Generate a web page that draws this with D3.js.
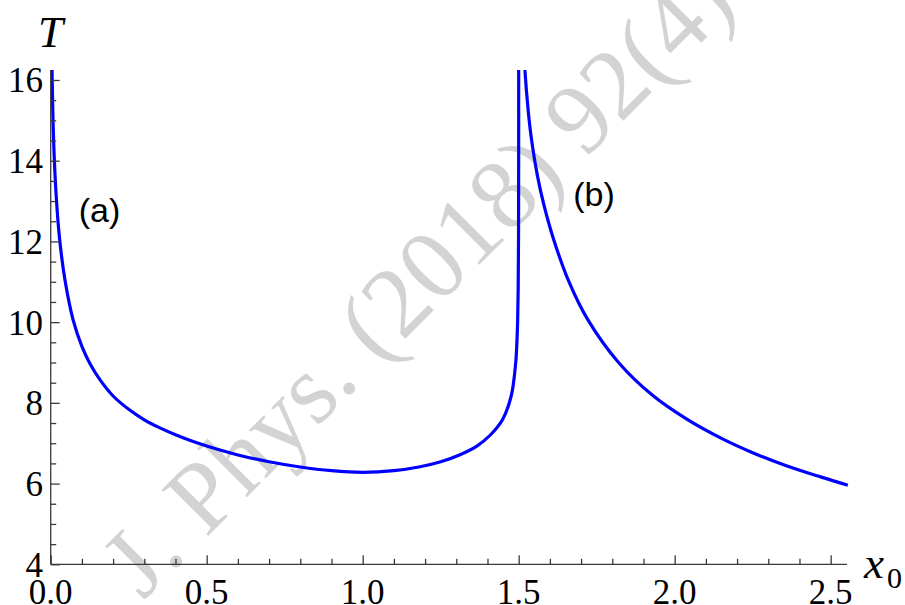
<!DOCTYPE html>
<html><head><meta charset="utf-8">
<script src="https://cdn.jsdelivr.net/npm/d3@7"></script>
<style>body{margin:0;background:#fff} svg{display:block}</style>
</head><body>
<svg id="chart" width="905" height="605"></svg>
<script>
// ---- data ----
const xTicks = [0, 0.5, 1.0, 1.5, 2.0, 2.5];
const xTickLabels = ["0.0", "0.5", "1.0", "1.5", "2.0", "2.5"];
const yTicks = [4, 6, 8, 10, 12, 14, 16];
const yTickLabels = ["4", "6", "8", "10", "12", "14", "16"];
const branchA_x = [0.0035, 0.005, 0.008, 0.011, 0.017, 0.028, 0.046, 0.072, 0.10, 0.126, 0.16, 0.20, 0.25, 0.30, 0.35, 0.40, 0.45, 0.50, 0.60, 0.70, 0.80, 0.90, 1.00, 1.10, 1.18, 1.25, 1.31, 1.366, 1.41, 1.448, 1.476, 1.4902, 1.4937, 1.4967, 1.4984, 1.4995, 1.49992, 1.49999];
const branchA_T = [16.7, 15.9, 14.85, 14.15, 13.2, 12.1, 11.03, 10.05, 9.40, 8.97, 8.55, 8.17, 7.84, 7.58, 7.38, 7.21, 7.06, 6.93, 6.71, 6.54, 6.41, 6.32, 6.28, 6.32, 6.41, 6.54, 6.71, 6.93, 7.21, 7.58, 8.17, 8.97, 9.40, 10.05, 10.85, 12.1, 14.15, 16.7];
const branchB_x = [1.518, 1.52, 1.53, 1.54, 1.56, 1.58, 1.61, 1.66, 1.72, 1.82, 1.93, 2.04, 2.15, 2.25, 2.36, 2.47, 2.555];
const branchB_T = [16.6, 16.25, 15.28, 14.59, 13.63, 12.93, 12.1, 11.02, 10.08, 9.0, 8.18, 7.59, 7.12, 6.765, 6.435, 6.16, 5.96];
const curveLabels = ["(a)", "(b)"];
const curveLabelPos = [[0.09, 12.49], [1.675, 12.88]];
const watermark = "J. Phys. (2018) 92(4)";

// ---- layout ----
const svg = d3.select("#chart");
const x = d3.scaleLinear().domain([0, 2.552]).range([50.7, 846.9]);
const y = d3.scaleLinear().domain([4, 16.25]).range([564.3, 69.9]);
const axisColor = "#3a3a3a";
const serif = "'Liberation Serif','Times New Roman',serif";
const sans = "'Liberation Sans',Arial,sans-serif";

// watermark (behind)
svg.append("text")
  .attr("transform", "translate(143,601) rotate(-45)")
  .attr("font-family", serif)
  .attr("font-size", 100)
  .attr("fill", "#d3d3d3")
  .text(watermark);

// clip
svg.append("defs").append("clipPath").attr("id", "clip")
  .append("rect").attr("x", 0).attr("y", y(16.25)).attr("width", 905).attr("height", 605);

const line = d3.line().x(d => x(d[0])).y(d => y(d[1])).curve(d3.curveCatmullRom.alpha(0.5));
const dataA = branchA_x.map((v, i) => [v, branchA_T[i]]);
const dataB = branchB_x.map((v, i) => [v, branchB_T[i]]);
const g = svg.append("g").attr("clip-path", "url(#clip)");
[dataA, dataB].forEach(d => {
  g.append("path").datum(d).attr("d", line)
    .attr("fill", "none").attr("stroke", "#0000ff").attr("stroke-width", 3.2);
});

// x axis
const xMinor = d3.range(1, 26).map(i => i / 10).filter(v => Math.abs(v * 2 - Math.round(v * 2)) > 1e-6);
const xAxis = d3.axisBottom(x).tickValues(xTicks).tickSize(-9).tickFormat("");
const gx = svg.append("g").attr("transform", `translate(0,${y(4)})`).call(xAxis);
gx.select(".domain").attr("stroke", axisColor).attr("stroke-width", 1.3).attr("d", `M${x(0)},0H${x(2.552)}`);
gx.selectAll(".tick line").attr("stroke", axisColor).attr("stroke-width", 1.3);
const xMinorAxis = d3.axisBottom(x).tickValues(xMinor).tickSize(-5.5).tickFormat("");
const gxm = svg.append("g").attr("transform", `translate(0,${y(4)})`).call(xMinorAxis);
gxm.select(".domain").remove();
gxm.selectAll(".tick line").attr("stroke", axisColor).attr("stroke-width", 1.3);
svg.append("g").selectAll("text").data(xTicks).join("text")
  .attr("x", d => x(d)).attr("y", 604)
  .attr("text-anchor", "middle").attr("font-family", serif).attr("font-size", 35).attr("fill", "#000")
  .text((d, i) => xTickLabels[i]);

// y axis
const yMinor = d3.range(9, 33).map(i => i / 2).filter(v => v % 2 !== 0);
const yAxis = d3.axisLeft(y).tickValues(yTicks).tickSize(-9).tickFormat("");
const gy = svg.append("g").attr("transform", `translate(${x(0)},0)`).call(yAxis);
gy.select(".domain").attr("stroke", axisColor).attr("stroke-width", 1.3).attr("d", `M0,${y(4)}V${y(16.25)}`);
gy.selectAll(".tick line").attr("stroke", axisColor).attr("stroke-width", 1.3);
const yMinorAxis = d3.axisLeft(y).tickValues(yMinor).tickSize(-5.5).tickFormat("");
const gym = svg.append("g").attr("transform", `translate(${x(0)},0)`).call(yMinorAxis);
gym.select(".domain").remove();
gym.selectAll(".tick line").attr("stroke", axisColor).attr("stroke-width", 1.3);
svg.append("g").selectAll("text").data(yTicks).join("text")
  .attr("x", 43).attr("y", d => y(d) + 12.5)
  .attr("text-anchor", "end").attr("font-family", serif).attr("font-size", 35).attr("fill", "#000")
  .text((d, i) => yTickLabels[i]);

// axis labels
svg.append("text").attr("x", 38).attr("y", 46.5)
  .attr("font-family", serif).attr("font-style", "italic").attr("font-size", 45).attr("fill", "#000").text("T");
const xl = svg.append("text").attr("x", 864).attr("y", 578)
  .attr("font-family", serif).attr("font-size", 45).attr("fill", "#000");
xl.append("tspan").attr("font-style", "italic").text("x");
xl.append("tspan").attr("font-size", 30).attr("dx", 3).attr("dy", 10).text("0");

// curve labels
svg.append("g").selectAll("text").data(curveLabels).join("text")
  .attr("x", (d, i) => x(curveLabelPos[i][0])).attr("y", (d, i) => y(curveLabelPos[i][1]))
  .attr("font-family", sans).attr("font-size", 34).attr("fill", "#000")
  .text(d => d);
</script>
</body></html>
